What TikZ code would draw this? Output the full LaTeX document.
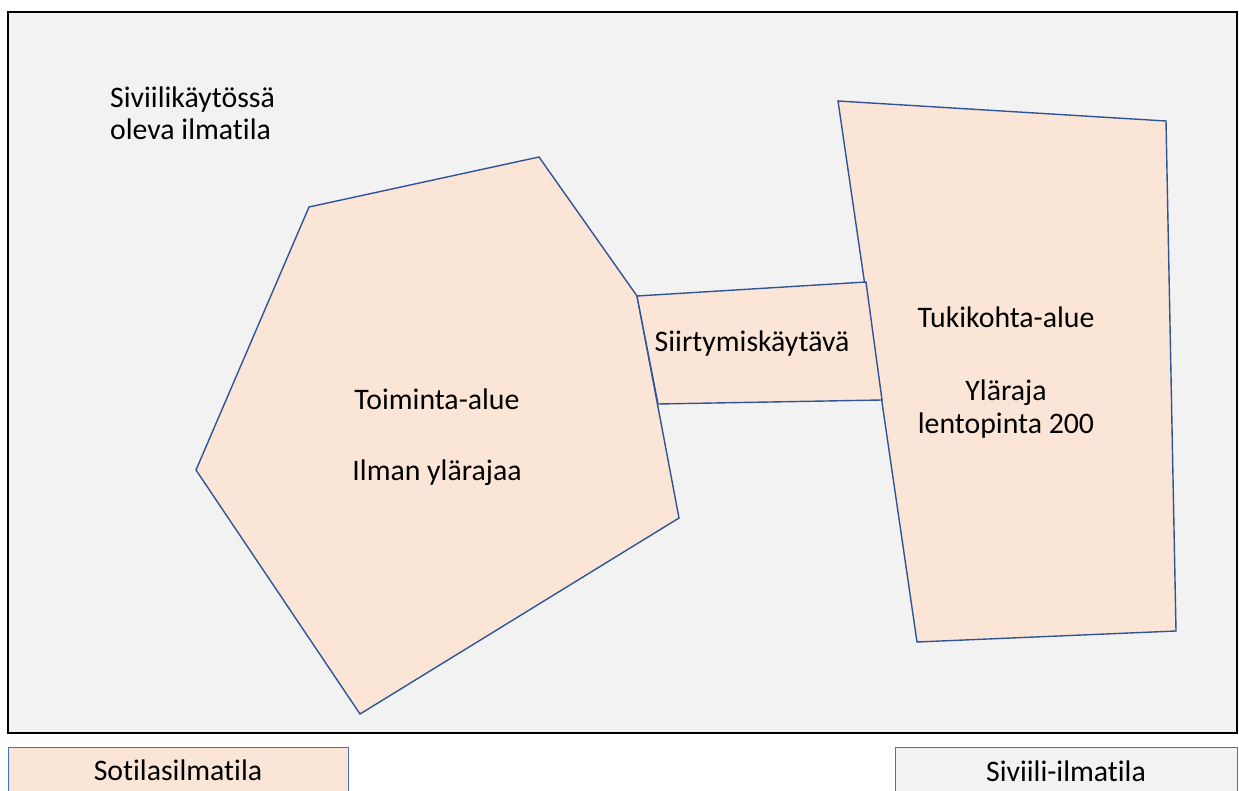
\documentclass[tikz,border=0pt]{standalone}
\usepackage{fontspec}
\setmainfont{Carlito}[Ligatures=NoCommon]
\begin{document}
\begin{tikzpicture}[x=1pt,y=-1pt,
  zone/.style={draw=zoneline,fill=zonefill,line width=1.4pt,line join=miter},
  lbl/.style={font=\fontsize{29.8}{33}\selectfont,text=black,inner sep=0pt,anchor=base},
  legendbox/.style={draw=legendline,line width=1.4pt}]
\definecolor{zonefill}{HTML}{FBE5D6}
\definecolor{zoneline}{HTML}{2F5597}
\definecolor{legendline}{HTML}{4472C4}
\definecolor{civil}{HTML}{F2F2F2}
\useasboundingbox (0,0) rectangle (1239,791);
\clip (0,0) rectangle (1239,791);
% civilian airspace frame
\draw[fill=civil,draw=black,line width=1.4pt] (8,12) rectangle (1237,733);
% operating area (pentagon)
\coordinate (p1) at (309,207);
\coordinate (p2) at (539,157);
\coordinate (p3) at (637,296);
\coordinate (p4) at (679,518);
\coordinate (p5) at (360,714);
\coordinate (p6) at (196,470);
\draw[zone] (p1) -- (p2) -- (p3) -- (p4) -- (p5) -- (p6) -- cycle;
% base area
\coordinate (q1) at (838,101);
\coordinate (q2) at (1166,121);
\coordinate (q3) at (1176,631);
\coordinate (q4) at (917,642);
\draw[zone] (q1) -- (q2) -- (q3) -- (q4) -- cycle;
% transit corridor between them
\coordinate (c1) at (637,296);
\coordinate (c2) at (866,282);
\coordinate (c3) at (882,400);
\coordinate (c4) at (658,404);
\draw[zone] (c1) -- (c2) -- (c3) -- (c4) -- cycle;
% labels
\node[lbl,anchor=base west] (civA) at (110,108) {Siviilikäytössä};
\node[lbl,anchor=base west] (civB) at (110,140) {oleva ilmatila};
\node[lbl] (toim) at (437,409) {Toiminta-alue};
\node[lbl] (ilman) at (437,480) {Ilman ylärajaa};
\node[lbl] (siirt) at (752,352) {Siirtymiskäytävä};
\node[lbl] (tuki) at (1006,328) {Tukikohta-alue};
\node[lbl] (ylaraja) at (1006,400) {Yläraja};
\node[lbl] (lento) at (1006,433) {lentopinta 200};
% legend
\node[legendbox,fill=zonefill,minimum width=340pt,minimum height=70pt,anchor=north west] (legmil) at (8,747) {};
\node[lbl] (legmiltext) at (178,780) {Sotilasilmatila};
\node[legendbox,fill=civil,minimum width=342pt,minimum height=70pt,anchor=north west] (legciv) at (895,747) {};
\node[lbl] (legcivtext) at (1066,781) {Siviili-ilmatila};
\end{tikzpicture}
\end{document}
